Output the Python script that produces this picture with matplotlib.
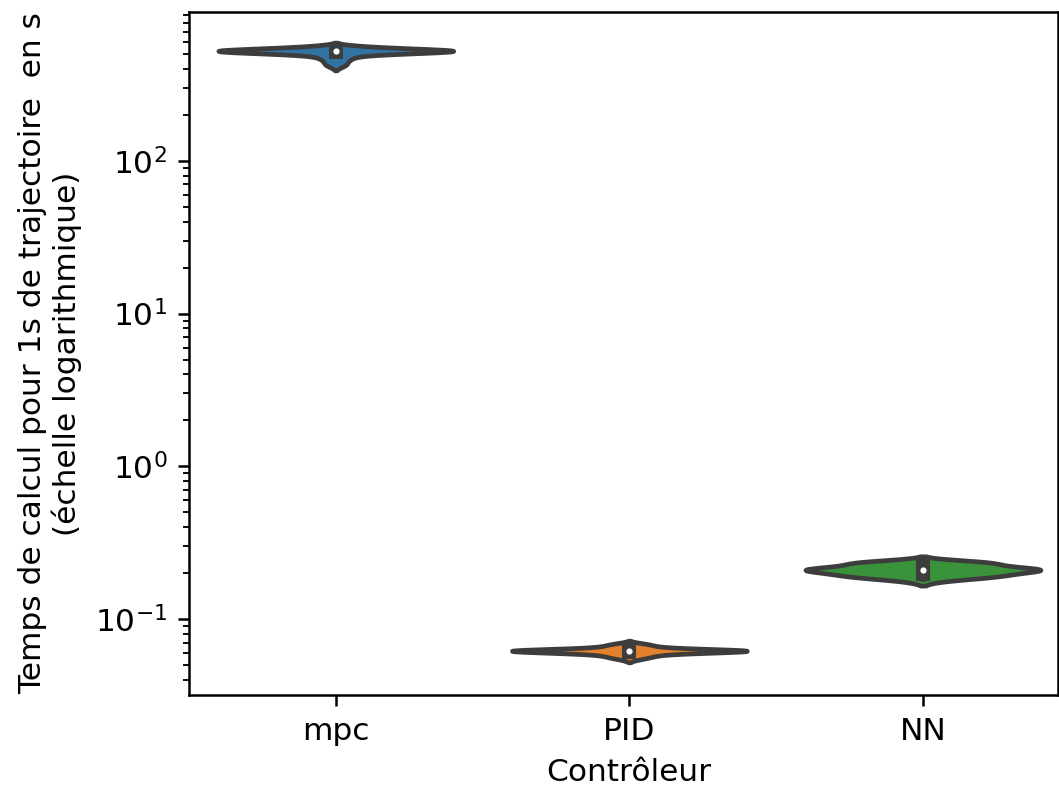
import numpy as np
import matplotlib
matplotlib.use("Agg")
import matplotlib.pyplot as plt
import matplotlib.colors as mcolors
import colorsys

# ---- data (computation time per 1 s of trajectory, in seconds) ----
controllers = ["mpc", "PID", "NN"]
mpc_times = [425, 455, 478, 495, 508, 515, 518, 520, 521, 522, 523, 523,
             524, 525, 526, 528, 531, 538, 546, 553, 560]
pid_times = [0.0555, 0.0570, 0.0585, 0.0596, 0.0605, 0.0612, 0.0617, 0.0619,
             0.0620, 0.0620, 0.0621, 0.0621, 0.0621, 0.0622, 0.0623, 0.0625,
             0.0630, 0.0638, 0.0648, 0.0660, 0.0675, 0.0690]
nn_times = [0.184, 0.188, 0.191, 0.193, 0.195, 0.197, 0.205, 0.208, 0.209,
            0.210, 0.211, 0.212, 0.213, 0.214, 0.217, 0.226, 0.229, 0.231,
            0.234, 0.237, 0.240]
series = [mpc_times, pid_times, nn_times]

xlabel = "Contrôleur"
ylabel = "Temps de calcul pour 1s de trajectoire  en s\n(échelle logarithmique)"


def desaturate(color, prop):
    r, g, b = mcolors.to_rgb(color)
    h, l, s = colorsys.rgb_to_hls(r, g, b)
    return colorsys.hls_to_rgb(h, l, s * prop)


base = ["#1f77b4", "#ff7f0e", "#2ca02c"]
colors = [desaturate(c, 0.75) for c in base]
lightness = min(colorsys.rgb_to_hls(*c)[1] for c in colors)
gray = mcolors.rgb2hex((lightness * 0.6,) * 3)


def kde(values, cut=2, gridsize=100):
    v = np.asarray(values, float)
    n = len(v)
    bw = np.std(v, ddof=1) * n ** (-1.0 / 5)
    support = np.linspace(v.min() - cut * bw, v.max() + cut * bw, gridsize)
    dens = np.exp(-0.5 * ((support[:, None] - v[None, :]) / bw) ** 2).sum(1)
    return support, dens


W, H, DPI = 1059, 788, 225
fig = plt.figure(figsize=(W / DPI, H / DPI), dpi=DPI)
ax = fig.add_axes([189 / W, 1 - 695 / H, (1058 - 189) / W, (695 - 12) / H])

lw = 1.5
for i, (vals, col) in enumerate(zip(series, colors)):
    support, dens = kde(vals)
    dens = dens / dens.max() * 0.4
    ax.fill_betweenx(support, i - dens, i + dens, facecolor=col,
                     edgecolor=gray, linewidth=lw, zorder=1)
    v = np.asarray(vals, float)
    q25, q50, q75 = np.percentile(v, [25, 50, 75])
    wl = 1.5 * (q75 - q25)
    h1 = v[v >= q25 - wl].min()
    h2 = v[v <= q75 + wl].max()
    ax.plot([i, i], [h1, h2], lw=lw, color=gray, zorder=2)
    ax.plot([i, i], [q25, q75], lw=lw * 3, color=gray, zorder=2)
    ax.scatter(i, q50, zorder=3, color="white", edgecolor=gray, s=(lw * 2) ** 2)

ax.set_yscale("log")
ax.set_ylim(0.0319, 942)
ax.set_xlim(-0.5, 2 + 135 / 293.5)
ax.set_xticks(range(len(controllers)))
ax.set_xticklabels(controllers)
ax.set_xlabel(xlabel)
ax.xaxis.label.set_x((629 - 189) / (1058 - 189))
ax.set_ylabel(ylabel)

fig.savefig("out.png", dpi=DPI)
